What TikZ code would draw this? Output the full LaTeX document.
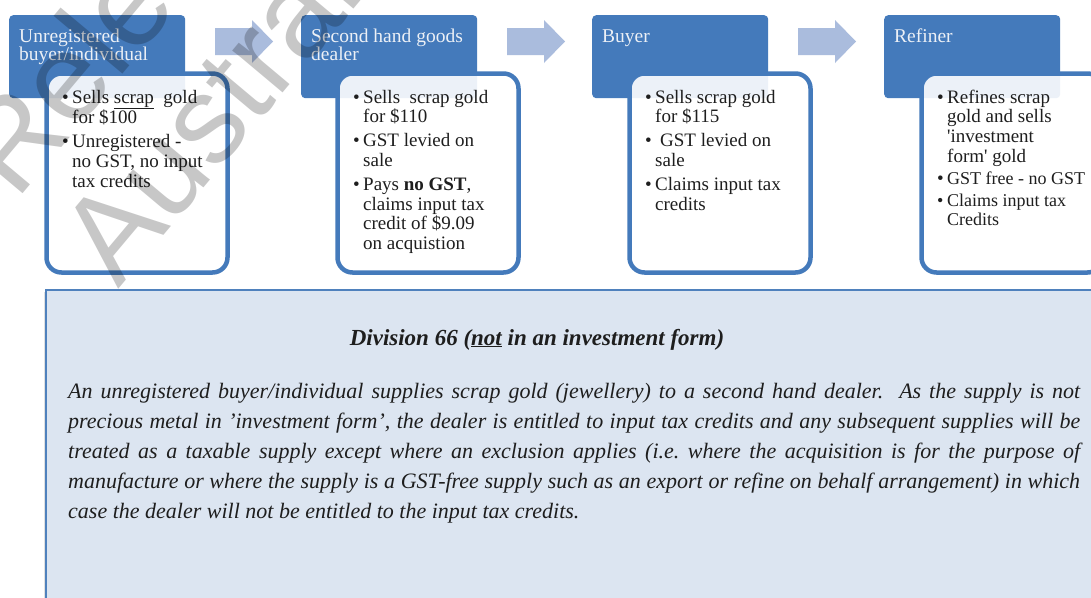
\documentclass[tikz,border=0pt]{standalone}
\usepackage{fontspec}
\setmainfont{Liberation Serif}
\newfontfamily\wmfont{Liberation Sans}
\usetikzlibrary{calc}

\definecolor{hdrblue}{RGB}{68,122,187}
\definecolor{arrowblue}{RGB}{170,188,221}
\definecolor{panelfill}{RGB}{220,229,241}
\definecolor{panelline}{RGB}{79,129,189}
\definecolor{ink}{RGB}{30,30,30}
\definecolor{capwhite}{RGB}{236,240,246}

% bullet list set in a top-aligned box, first baseline on the anchor
\newcommand\blist[1]{\parbox[t]{220pt}{\fontsize{19}{19.8}\selectfont\raggedright
  \let\\\newline\parskip=4pt #1}}
\newcommand\bitem[1]{\hangindent=10pt\hangafter=1\noindent\makebox[10pt][l]{\textbullet}#1\par}
% header caption, two lines at most
\newcommand\hcap[1]{\parbox[t]{170pt}{\fontsize{19.5}{18}\selectfont\raggedright #1}}
% one justified line of the note
\newcommand\jline[1]{\makebox[1012pt][s]{#1}}

\tikzset{
  hdrbox/.style={draw=none, fill=hdrblue, rounded corners=4pt, minimum width=176pt,
                 minimum height=83pt, anchor=north west, inner sep=0pt},
  hdrtext/.style={anchor=base west, inner sep=0pt, text=capwhite},
  cardbox/.style={draw=hdrblue, line width=4.5pt, fill=white, fill opacity=0.9,
                  rounded corners=15pt, minimum width=181pt, minimum height=199pt,
                  anchor=north west, inner sep=0pt},
  cardtext/.style={anchor=base west, inner sep=0pt, text=ink},
  flowarrow/.style={fill=arrowblue, draw=none},
  watermark/.style={anchor=base west, inner sep=0pt, rotate=50, text=black,
                    text opacity=0.22, font=\wmfont\fontsize{124}{124}\selectfont},
}

\begin{document}
\begin{tikzpicture}[x=1pt, y=-1pt]
\useasboundingbox (0,0) rectangle (1091,597);
\clip (0,0) rectangle (1091,597);
\fill[white] (0,0) rectangle (1091,597);

% ---- header tiles ----
\node[hdrbox] (h1) at (9,15) {};
\node[hdrbox] (h2) at (301,15) {};
\node[hdrbox] (h3) at (592,15) {};
\node[hdrbox] (h4) at (884,15) {};

\node[hdrtext] (l1) at (19,42)  {\hcap{Unregistered\\buyer/individual}};
\node[hdrtext] (l2) at (311,42) {\hcap{Second hand goods\\dealer}};
\node[hdrtext] (l3) at (602,42) {\hcap{Buyer}};
\node[hdrtext] (l4) at (894,42) {\hcap{Refiner}};

% ---- block arrows between the tiles ----
\foreach \ax/\nm in {215/a1, 507/a2, 798/a3}{
  \coordinate (\nm) at (\ax,41.5);
  \fill[flowarrow] ($(\nm)+(0,-13.5)$) -- ++(37,0) -- ++(0,-8) -- ++(21,21.5)
        -- ++(-21,21.5) -- ++(0,-8) -- ++(-37,0) -- cycle;
}

% ---- white cards with the bullet points ----
\node[cardbox] (c1) at (44.25,71.25) {};
\node[cardbox] (c2) at (335.25,71.25) {};
\node[cardbox] (c3) at (627.25,71.25) {};
\node[cardbox] (c4) at (919.25,71.25) {};

\node[cardtext] (t1) at (62,103) {\blist{%
  \bitem{Sells \underline{scrap}\ \ gold\\for \$100}
  \bitem{Unregistered -\\no GST, no input\\tax credits}}};
\node[cardtext] (t2) at (353,103) {\blist{%
  \bitem{Sells\ \ scrap gold\\for \$110}
  \bitem{GST levied on\\sale}
  \bitem{Pays \textbf{no GST},\\claims input tax\\credit of \$9.09\\on acquistion}}};
\node[cardtext] (t3) at (645,103) {\blist{%
  \bitem{Sells scrap gold\\for \$115}
  \bitem{\hspace{5pt}GST levied on\\sale}
  \bitem{Claims input tax\\credits}}};
\node[cardtext] (t4) at (937,103) {\blist{\parskip=2pt
  \bitem{Refines scrap\\gold and sells\\\textquotesingle investment\\form\textquotesingle\ gold}
  \bitem{\fontsize{18}{19.8}\selectfont GST free - no GST}
  \bitem{Claims input tax\\Credits}}};

% ---- note panel ----
\fill[black, opacity=0.12] (43.5,292) rectangle (46,610);
\fill[panelfill] (46,290) rectangle (1100,610);
\draw[panelline, line width=1.6pt] (46,610) -- (46,290) -- (1100,290);

\node[anchor=base, inner sep=0pt, text=ink] (title) at (537,345)
  {\fontsize{23}{23}\selectfont\bfseries\itshape Division 66 (\underline{not} in an investment form)};

\node[anchor=base west, inner sep=0pt, text=ink] (note) at (68,398) {%
  \parbox[t]{1012pt}{\fontsize{22}{30}\selectfont\itshape\frenchspacing
  \jline{An unregistered buyer/individual supplies scrap gold (jewellery) to a second hand dealer.\ \ As the supply is not}\\
  \jline{precious metal in ’investment form’, the dealer is entitled to input tax credits and any subsequent supplies will be}\\
  \jline{treated as a taxable supply except where an exclusion applies (i.e. where the acquisition is for the purpose of}\\
  \jline{manufacture or where the supply is a GST-free supply such as an export or refine on behalf arrangement) in which}\\
  case the dealer will not be entitled to the input tax credits.}};

% ---- diagonal watermark ----
\node[watermark] (wm1) at (16,202) {Released};
\node[watermark] (wm2) at (118,290) {Australian};
\end{tikzpicture}
\end{document}
